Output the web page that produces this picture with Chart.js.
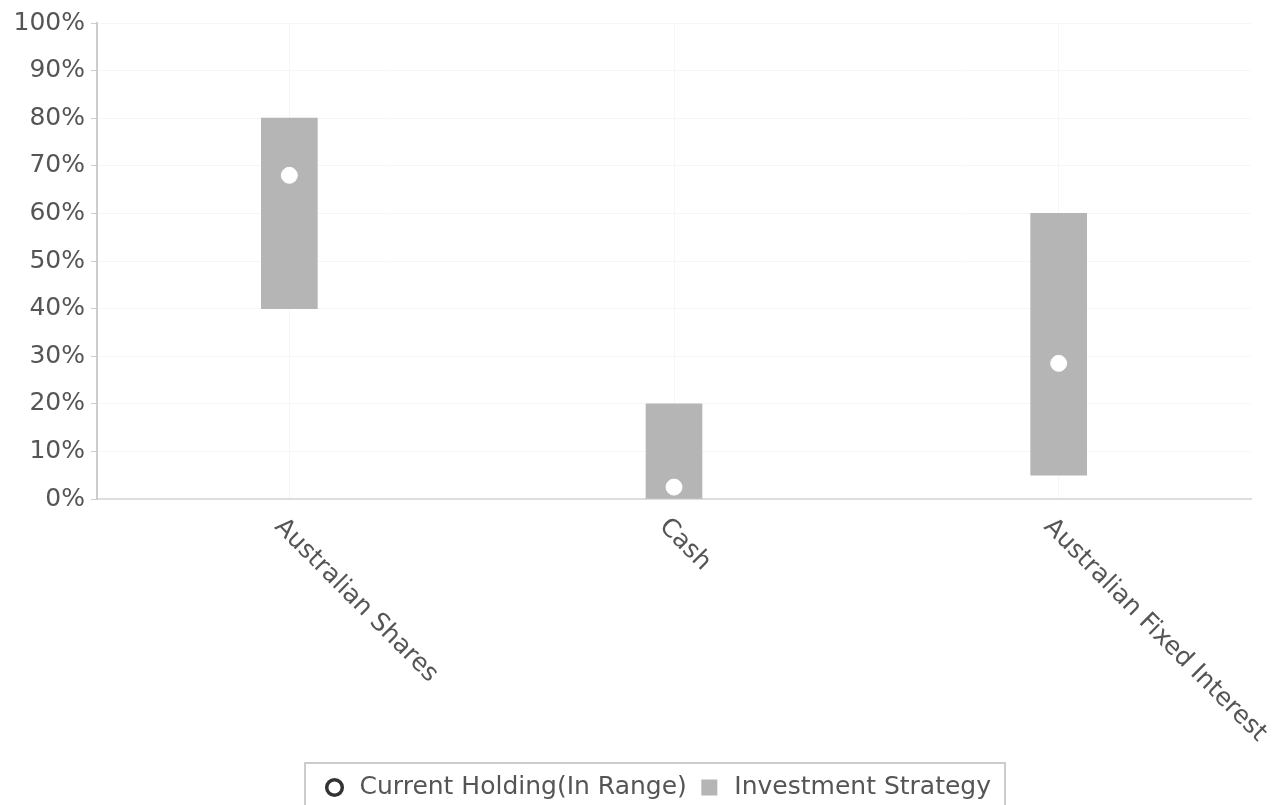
<!DOCTYPE html>
<html>
<head>
<meta charset="utf-8">
<script src="https://cdn.jsdelivr.net/npm/chart.js@4.4.1/dist/chart.umd.min.js"></script>
<style>
  html, body { margin: 0; padding: 0; background: #fff; }
  #wrap { width: 1286px; height: 805px; position: relative; }
</style>
</head>
<body>
<div id="wrap"><canvas id="grafico"></canvas></div>
<script>
const categorias = ["Australian Shares", "Cash", "Australian Fixed Interest"];
const rangoMin = [40, 0, 5];
const rangoMax = [80, 20, 60];
const tenenciaActual = [68, 2.5, 28.5];
const ticksY = [0, 10, 20, 30, 40, 50, 60, 70, 80, 90, 100];

const colorTexto = "#555555";
const colorBarra = "#b5b5b5";
const tamFuente = 25;

Chart.defaults.font.family = "'DejaVu Sans', sans-serif";
Chart.defaults.font.size = tamFuente;
Chart.defaults.color = colorTexto;

// rangos como barras flotantes
const barrasRango = categorias.map((c, i) => [rangoMin[i], rangoMax[i]]);

// etiquetas del eje x giradas hacia abajo a la derecha
const etiquetasX = {
    id: "etiquetasX",
    afterDraw(chart) {
        const ctx = chart.ctx;
        const x = chart.scales.x;
        ctx.save();
        ctx.font = tamFuente + "px 'DejaVu Sans', sans-serif";
        ctx.fillStyle = colorTexto;
        ctx.textAlign = "left";
        ctx.textBaseline = "middle";
        categorias.forEach((c, i) => {
            const px = x.getPixelForValue(i);
            ctx.save();
            ctx.translate(px - 11, x.top + 24);
            ctx.rotate(Math.PI / 4);
            ctx.fillText(c, 0, 0);
            ctx.restore();
        });
        ctx.restore();
    }
};

// leyenda un poco desplazada y con marco
const marcoLeyenda = {
    id: "marcoLeyenda",
    afterLayout(chart) {
        const l = chart.legend;
        l.left += 31; l.right += 31;
        l.top += 5; l.bottom += 5;
    },
    afterDraw(chart) {
        const l = chart.legend;
        if (!l || !l.legendHitBoxes.length) return;
        const cajas = l.legendHitBoxes;
        const izq = Math.min(...cajas.map(b => b.left));
        const der = Math.max(...cajas.map(b => b.left + b.width));
        const ctx = chart.ctx;
        ctx.save();
        ctx.strokeStyle = "#cccccc";
        ctx.lineWidth = 2;
        ctx.strokeRect(izq - 17, l.top - 2, der - izq + 31, l.height + 30);
        ctx.restore();
    }
};

new Chart(document.getElementById("grafico").getContext("2d"), {
    data: {
        labels: categorias,
        datasets: [{
            type: "line",
            label: "Current Holding(In Range)",
            data: tenenciaActual,
            showLine: false,
            pointRadius: 8,
            pointHoverRadius: 8,
            pointBackgroundColor: "#ffffff",
            pointBorderColor: "#ffffff",
            pointBorderWidth: 1
        }, {
            type: "bar",
            label: "Investment Strategy",
            data: barrasRango,
            backgroundColor: colorBarra,
            borderWidth: 0,
            barThickness: 56
        }]
    },
    plugins: [etiquetasX, marcoLeyenda],
    options: {
        responsive: true,
        maintainAspectRatio: false,
        animation: false,
        layout: { padding: { top: 23, right: 35, left: 0, bottom: 0 } },
        scales: {
            x: {
                offset: true,
                ticks: { display: false },
                grid: { color: "#f6f6f6", drawTicks: false, offset: false },
                border: { color: "#dddddd", width: 2 },
                afterFit: (s) => { s.height = 261; }
            },
            y: {
                min: 0,
                max: 100,
                afterBuildTicks: (s) => { s.ticks = ticksY.map(v => ({ value: v })); },
                ticks: {
                    callback: (v) => v + "%",
                    padding: 6,
                    color: colorTexto
                },
                grid: { color: "#f6f6f6", tickColor: "#cccccc", tickLength: 6 },
                border: { color: "#cccccc", width: 2 },
                afterFit: (s) => { s.width = 97; }
            }
        },
        plugins: {
            tooltip: { enabled: false },
            legend: {
                position: "bottom",
                labels: {
                    usePointStyle: true,
                    boxHeight: 11,
                    padding: 10,
                    color: colorTexto,
                    font: { size: tamFuente },
                    generateLabels: (chart) => [{
                        text: "Current Holding(In Range)",
                        fillStyle: "#ffffff",
                        strokeStyle: "#333333",
                        lineWidth: 3.5,
                        pointStyle: "circle",
                        fontColor: colorTexto,
                        datasetIndex: 0
                    }, {
                        text: "Investment Strategy",
                        fillStyle: colorBarra,
                        strokeStyle: colorBarra,
                        lineWidth: 5,
                        pointStyle: "rect",
                        fontColor: colorTexto,
                        datasetIndex: 1
                    }]
                }
            }
        }
    }
});
</script>
</body>
</html>
